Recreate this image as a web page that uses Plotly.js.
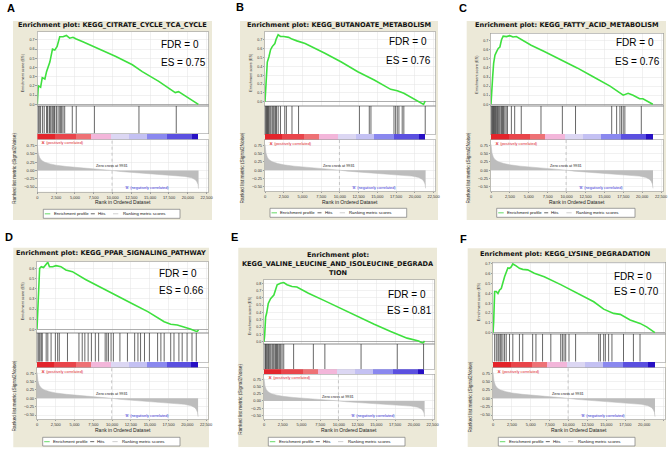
<!DOCTYPE html>
<html><head><meta charset="utf-8">
<script src="https://cdn.plot.ly/plotly-3.0.1.min.js"></script>
<style>html,body{margin:0;padding:0;background:#fff}#chart{width:669px;height:449px}</style>
</head><body><div id="chart"></div>
<script>
// ---------------- DATA ----------------
const rankTickVals = [0,2500,5000,7500,10000,12500,15000,17500,20000,22500];
const rankTickText = ["0","2,500","5,000","7,500","10,000","12,500","15,000","17,500","20,000","22,500"];
const metricTickVals = [-0.5,-0.25,0,0.25,0.5,0.75];
const zeroCross = 9931;
const metricRank  = [0,40,130,300,450,700,1000,1700,2500,3900,5000,6100,7200,8300,9200,9931,11000,12600,14000,15500,17000,18300,19600,20500,21000,21200,21350,21430];
const metricValue = [0.78,0.67,0.52,0.40,0.34,0.29,0.25,0.20,0.16,0.12,0.10,0.085,0.065,0.045,0.02,0,-0.03,-0.06,-0.08,-0.10,-0.13,-0.15,-0.18,-0.22,-0.28,-0.34,-0.42,-0.55];
const bandEdges = [0,2325,5176,7150,9780,12190,14600,17240,20530,21400];

const titlesA = ["Enrichment plot: KEGG_CITRATE_CYCLE_TCA_CYCLE"];
const titlesB = ["Enrichment plot: KEGG_BUTANOATE_METABOLISM"];
const titlesC = ["Enrichment plot: KEGG_FATTY_ACID_METABOLISM"];
const titlesD = ["Enrichment plot: KEGG_PPAR_SIGNALING_PATHWAY"];
const titlesE = ["Enrichment plot:","KEGG_VALINE_LEUCINE_AND_ISOLEUCINE_DEGRADA","TION"];
const titlesF = ["Enrichment plot: KEGG_LYSINE_DEGRADATION"];
const fdrValues = [0,0,0,0,0,0];
const esValues = [0.75,0.76,0.76,0.66,0.81,0.70];

const esRankA = [0,132,439,658,1009,1228,1667,2018,2325,2632,2982,3421,3860,4298,4737,5176,6053,8246,10439,12632,13947,16140,18333,18772,21404];
const esScoreA = [0,0.20,0.185,0.29,0.275,0.355,0.46,0.60,0.59,0.63,0.735,0.735,0.75,0.72,0.73,0.71,0.68,0.60,0.52,0.43,0.355,0.25,0.127,0.138,0.0];
const hitsA = [132,263,439,702,921,1228,1360,1579,1667,1798,1974,2105,2237,2325,2544,2763,2982,3114,3246,3421,3640,4649,5175,7588,13509,18465];

const esRankB = [0,88,220,307,527,746,966,1317,1493,1756,2063,2502,3161,3600,4258,5356,7990,10185,12380,14575,16770,17648,18526,21160,21379];
const esScoreB = [0,0.13,0.23,0.45,0.51,0.59,0.625,0.66,0.71,0.76,0.74,0.74,0.73,0.71,0.69,0.66,0.55,0.45,0.34,0.246,0.14,0.125,0.095,-0.03,0.008];
const hitsB = [88,176,263,351,439,527,659,790,966,1098,1229,1405,1537,1756,2063,2634,2854,3600,4478,12599,13916,14136,17209,17428,17648,17868,18307,18526,21379];

const esRankC = [0,87,218,348,522,740,957,1175,1392,1610,2045,2480,2915,3350,4002,5307,7047,9222,11397,13572,15747,17487,18140,18792,19662,20097,21402];
const esScoreC = [0,0.21,0.30,0.45,0.54,0.58,0.615,0.63,0.71,0.75,0.745,0.755,0.74,0.745,0.715,0.65,0.58,0.49,0.40,0.30,0.20,0.10,0.12,0.10,0.06,0.06,0.0];
const hitsC = [87,174,261,348,435,522,609,740,870,957,1088,1218,1392,1523,1653,1827,2001,2175,2697,3132,4002,6612,9440,11180,15965,16617,17052,17270,17487,17705,19880];

const esRankD = [0,87,174,262,349,567,872,1221,1439,1657,2093,2529,3183,3837,4709,6453,8197,10377,12557,14737,16917,17789,18661,19533,20405,21277,21495];
const esScoreD = [0,0.14,0.32,0.33,0.60,0.616,0.607,0.64,0.66,0.616,0.616,0.626,0.616,0.584,0.567,0.49,0.42,0.34,0.256,0.174,0.075,0.05,0.043,0.026,0.003,-0.023,-0.007];
const hitsD = [131,262,392,567,698,1221,1439,1875,2442,2747,2965,4055,5581,6017,6366,6802,7238,7761,8197,9069,9287,9505,9854,10159,11031,12034,12993,13429,13778,14301,14955,16045,16481,16917,17789,18225,18879,19315,19969,20623,21190];

const esRankE = [0,88,220,351,571,878,1317,1756,2195,2634,3073,3732,4390,5927,8122,10317,12512,14707,16902,19097,20633,21204,21423];
const esScoreE = [0,0.09,0.34,0.39,0.525,0.59,0.64,0.78,0.80,0.81,0.78,0.755,0.75,0.665,0.56,0.45,0.35,0.24,0.14,0.05,0.01,-0.02,0.01];
const hitsE = [132,220,307,439,571,659,790,922,1098,1229,1361,1537,1668,1800,1976,2107,2239,2415,2634,3951,6585,8122,12951,17780,21292];

const esRankF = [0,87,219,437,656,874,1093,1311,1530,1967,2185,2404,2622,3059,3496,3933,4589,5463,6774,8959,11144,13329,14640,15951,16825,18136,19447,20321,21413];
const esScoreF = [0,0.11,0.42,0.42,0.40,0.435,0.45,0.51,0.57,0.66,0.655,0.67,0.70,0.68,0.655,0.645,0.64,0.605,0.57,0.49,0.40,0.315,0.24,0.197,0.187,0.13,0.095,0.06,0.0];
const hitsF = [219,437,656,787,961,1093,1311,1530,1748,2185,2622,3496,3933,5244,5681,6555,7648,8959,9177,9396,9614,10051,10925,13984,14203,14640,14858,15295,15732,17262,18573,19447];

const panelLabels = ["A","B","C","D","E","F"];
const posClass = "'A' (positively correlated)";
const negClass = "'B' (negatively correlated)";
const zeroText = "Zero cross at " + zeroCross;

// ---------------- STYLE / LAYOUT ----------------
const FONT = "Liberation Sans, Arial, sans-serif";
const TFONT = "DejaVu Sans, Verdana, sans-serif";
const bandColors = ['#e3242b','#e9454b','#ee7175','#f3b6da','#dcd7f3','#c4c1f3','#8a88ef','#5b50e0','#2710c4'];
const W=669, H=449;
const X=p=>p/W, Y=p=>1-p/H;

const geo = [
 {lab:[10.5,7.5], box:[13,21,212,220], tY:[25.5], tX:112.8, px:[37.3,208.5], es:[32,106], esR:[-0.0185,0.787], hits:[106,133.5], cb:[133.5,139.5], rk:[139.5,191.7], rkR:[-0.642,0.938], fdr:[159.3,44.3], est:[159.3,62.3], leg:[43.3,209.3,180,218.3]},
 {lab:[239.7,7.3], box:[240,21,438,220], tY:[25.5], tX:338.5, px:[265,435.5], es:[31.7,106], esR:[-0.049,0.794], hits:[106,134], cb:[134,140], rk:[140,191], rkR:[-0.63,0.91], fdr:[386.7,41.7], est:[384.3,60], leg:[270,208.3,406.7,217.3]},
 {lab:[463.3,7.5], box:[466.7,21,666,220], tY:[25.5], tX:566.7, px:[491,663], es:[33.3,106], esR:[-0.019,0.781], hits:[106,134], cb:[134,140], rk:[140,191], rkR:[-0.63,0.91], fdr:[614.3,42.3], est:[613.3,61], leg:[496.7,208.3,635,217.3]},
 {lab:[9.2,237.2], box:[13.3,247.7,209,447.3], tY:[253.5], tX:111.3, px:[37,208], es:[261.7,333], esR:[-0.036,0.665], hits:[333,361.7], cb:[361.7,367.7], rk:[367.7,419.3], rkR:[-0.629,0.918], fdr:[157.3,273.3], est:[157.3,290.7], leg:[42.7,437.3,180,446]},
 {lab:[235,237.2], box:[238.3,247.7,437,447], tY:[254.5,264,272.9], tX:338.3, px:[264,434.5], es:[280,344], esR:[-0.03,0.845], hits:[344,369.3], cb:[369.3,374.3], rk:[374.3,419.3], rkR:[-0.639,0.924], fdr:[385.7,294], est:[385,310], leg:[268.3,437.3,405,446]},
 {lab:[463.3,239.2], box:[467.7,248.3,666,447], tY:[254.2], tX:565, px:[493,665], es:[262.3,334], esR:[-0.013,0.717], hits:[334,361.7], cb:[361.7,367.7], rk:[367.7,419.3], rkR:[-0.629,0.918], fdr:[611.7,276.7], est:[611.7,291.7], leg:[498.3,437.3,635,446]}
];
const rankMax = 22750;
const titles = [titlesA,titlesB,titlesC,titlesD,titlesE,titlesF];
const esRanks = [esRankA,esRankB,esRankC,esRankD,esRankE,esRankF];
const esScores = [esScoreA,esScoreB,esScoreC,esScoreD,esScoreE,esScoreF];
const hitsAll = [hitsA,hitsB,hitsC,hitsD,hitsE,hitsF];

const traces = [];
const layout = {width:W, height:H, margin:{l:0,r:0,t:0,b:0}, paper_bgcolor:'#fff', plot_bgcolor:'rgba(0,0,0,0)',
  showlegend:false, shapes:[], annotations:[], font:{family:FONT, color:'#000'}, bargap:0,
  // full-page overlay axis used for the panel frames (pixel coordinates)
  xaxis:{domain:[0,1], range:[0,W], visible:false, fixedrange:true},
  yaxis:{domain:[0,1], range:[H,0], visible:false, fixedrange:true}
};
const xid = n => n===1?'x':'x'+n, yid = n => n===1?'y':'y'+n;
const xkey = n => n===1?'xaxis':'xaxis'+n, ykey = n => n===1?'yaxis':'yaxis'+n;
const ann = (o) => layout.annotations.push(Object.assign({showarrow:false, xref:'paper', yref:'paper', xanchor:'center', yanchor:'middle', font:{family:FONT,size:5,color:'#000'}}, o));
const frame = (x0,y0,x1,y1,fill,lc,lw) => traces.push({type:'scatter', mode:'lines', x:[x0,x1,x1,x0,x0], y:[y0,y0,y1,y1,y0], fill:'toself', fillcolor:fill, line:{color:lc||fill, width:lw||0}, xaxis:'x', yaxis:'y', hoverinfo:'skip'});
const lineP = (x0,y0,x1,y1,color,w) => layout.shapes.push({type:'line', xref:'paper', yref:'paper', x0:X(x0), x1:X(x1), y0:Y(y0), y1:Y(y1), line:{color:color,width:w}});

geo.forEach(g=>{
  frame(g.box[0],g.box[1],g.box[2],g.box[3],'#ece9d8');
  frame(g.px[0],g.es[0],g.px[1],g.rk[1],'#ffffff');
  frame(g.leg[0],g.leg[1],g.leg[2],g.leg[3],'#ffffff','#7a7a7a',0.7);
});

geo.forEach((g,i)=>{
  const n1=i*4+2, n2=n1+1, n3=n1+2, n4=n1+3;
  const xd=[X(g.px[0]),X(g.px[1])];
  ann({x:X(g.lab[0]), y:Y(g.lab[1]), text:'<b>'+panelLabels[i]+'</b>', font:{family:FONT,size:11,color:'#000'}});
  titles[i].forEach((t,k)=>ann({x:X(g.tX), y:Y(g.tY[k]), text:'<b>'+t+'</b>', font:{family:TFONT,size:6.6,color:'#111'}}));
  ann({x:X(g.fdr[0]), y:Y(g.fdr[1]), xanchor:'left', text:'FDR = '+fdrValues[i], font:{family:FONT,size:10,color:'#000'}});
  ann({x:X(g.est[0]), y:Y(g.est[1]), xanchor:'left', text:'ES = '+esValues[i].toFixed(2), font:{family:FONT,size:10,color:'#000'}});
  const common = {range:[0,rankMax], tickvals:rankTickVals, ticktext:rankTickText, showline:true, mirror:true, linecolor:'#9c9c9c', linewidth:0.6, zeroline:false, fixedrange:true, gridcolor:'#e4e4e4', gridwidth:0.5};
  layout[xkey(n1)] = Object.assign({}, common, {domain:xd, anchor:yid(n1), showgrid:true, showticklabels:false, ticks:''});
  layout[ykey(n1)] = {domain:[Y(g.es[1]),Y(g.es[0])], anchor:xid(n1), range:g.esR, dtick:0.1, tick0:0, tickformat:'.1f', showgrid:true, gridcolor:'#e4e4e4', gridwidth:0.5,
     zeroline:true, zerolinecolor:'#9a9a9a', zerolinewidth:0.8, showline:true, mirror:true, linecolor:'#9c9c9c', linewidth:0.6, ticks:'outside', ticklen:1.5, tickcolor:'#9c9c9c', tickfont:{size:3.6,color:'#333'}, fixedrange:true};
  layout[xkey(n2)] = Object.assign({}, common, {domain:xd, anchor:yid(n2), showgrid:false, showticklabels:false, ticks:''});
  layout[ykey(n2)] = {domain:[Y(g.hits[1]),Y(g.hits[0])], anchor:xid(n2), range:[0,1], showgrid:false, zeroline:false, showticklabels:false, showline:true, mirror:true, linecolor:'#9c9c9c', linewidth:0.6, fixedrange:true};
  layout[xkey(n3)] = Object.assign({}, common, {domain:xd, anchor:yid(n3), showgrid:false, showticklabels:false, ticks:'', showline:false});
  layout[ykey(n3)] = {domain:[Y(g.cb[1]),Y(g.cb[0])], anchor:xid(n3), range:[0,1], showgrid:false, zeroline:false, showticklabels:false, showline:false, fixedrange:true};
  layout[xkey(n4)] = Object.assign({}, common, {domain:xd, anchor:yid(n4), showgrid:true, showticklabels:true, ticks:'outside', ticklen:1.5, tickcolor:'#9c9c9c', tickfont:{size:4,color:'#333'}});
  layout[ykey(n4)] = {domain:[Y(g.rk[1]),Y(g.rk[0])], anchor:xid(n4), range:g.rkR, tickvals:metricTickVals, tickformat:'.2f', showgrid:true, gridcolor:'#e4e4e4', gridwidth:0.5,
     zeroline:false, showline:true, mirror:true, linecolor:'#9c9c9c', linewidth:0.6, ticks:'outside', ticklen:1.5, tickcolor:'#9c9c9c', tickfont:{size:4,color:'#333'}, fixedrange:true};
  ann({x:X(g.px[0]-14), y:Y((g.es[0]+g.es[1])/2+4), text:'Enrichment score (ES)', textangle:-90, font:{family:FONT,size:3.8,color:'#333'}});
  ann({x:X(g.px[0]-23), y:Y((g.rk[0]+g.rk[1])/2+3), text:'Ranked list metric (Signal2Noise)', textangle:-90, font:{family:FONT,size:4.8,color:'#333'}});
  ann({x:X((g.px[0]+g.px[1])/2), y:Y(g.rk[1]+10.5), text:'Rank in Ordered Dataset', font:{family:FONT,size:5,color:'#222'}});
  traces.push({type:'scatter', mode:'lines', x:metricRank, y:metricValue, fill:'tozeroy', fillcolor:'#bdbdbd', line:{width:0.5,color:'#bdbdbd'}, xaxis:xid(n4), yaxis:yid(n4), hoverinfo:'skip'});
  layout.shapes.push({type:'line', xref:xid(n4), yref:yid(n4)+' domain', x0:zeroCross, x1:zeroCross, y0:0, y1:1, line:{color:'#a8a8a8', width:0.6, dash:'dot'}});
  ann({xref:xid(n4), yref:yid(n4), x:zeroCross, y:0.13, text:zeroText, font:{family:FONT,size:3.8,color:'#222'}});
  ann({x:X(g.px[0]+2), y:Y(g.rk[0]+3.3), xanchor:'left', text:posClass, font:{family:FONT,size:3.9,color:'#e0262c'}});
  ann({xref:xid(n4), yref:yid(n4), x:14600, y:-0.52, text:negClass, font:{family:FONT,size:3.9,color:'#3333d6'}});
  traces.push({type:'scatter', mode:'lines', x:esRanks[i], y:esScores[i], line:{color:'#3ee03e', width:1.6}, xaxis:xid(n1), yaxis:yid(n1), hoverinfo:'skip'});
  const hx=[], hy=[];
  hitsAll[i].forEach(h=>{hx.push(h,h,null); hy.push(0,1,null);});
  traces.push({type:'scatter', mode:'lines', x:hx, y:hy, line:{color:'#262626', width:0.7}, xaxis:xid(n2), yaxis:yid(n2), hoverinfo:'skip'});
  const cx=[], cw=[];
  for(let k=0;k<bandEdges.length-1;k++){cx.push((bandEdges[k]+bandEdges[k+1])/2); cw.push(bandEdges[k+1]-bandEdges[k]);}
  traces.push({type:'bar', x:cx, y:cx.map(()=>1), width:cw, marker:{color:bandColors, line:{width:0}}, xaxis:xid(n3), yaxis:yid(n3), hoverinfo:'skip'});
  const L=g.leg, cy=(L[1]+L[3])/2;
  lineP(L[0]+1.5,cy,L[0]+7,cy,'#7ee07e',1.2);
  ann({x:X(L[0]+8.4), y:Y(cy), xanchor:'left', text:'Enrichment profile', font:{family:FONT,size:4.3,color:'#111'}});
  lineP(L[0]+47.5,cy,L[0]+51.5,cy,'#555',0.9);
  ann({x:X(L[0]+52.5), y:Y(cy), xanchor:'left', text:'Hits', font:{family:FONT,size:4.3,color:'#111'}});
  lineP(L[0]+69.7,cy,L[0]+75,cy,'#cfcfcf',1);
  ann({x:X(L[0]+77.4), y:Y(cy), xanchor:'left', text:'Ranking metric scores', font:{family:FONT,size:4.3,color:'#111'}});
});

Plotly.newPlot('chart', traces, layout, {staticPlot:true, displayModeBar:false});
</script>
</body></html>
